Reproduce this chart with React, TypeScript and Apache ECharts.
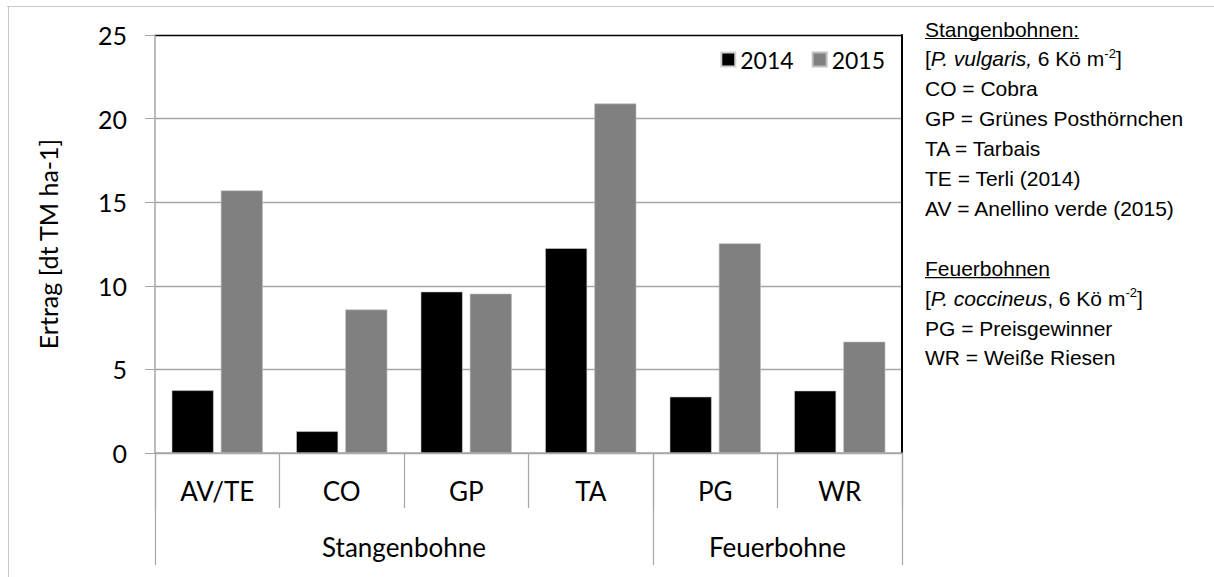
import React, { useEffect, useRef } from "react";
import * as echarts from "echarts";

const categories = ["AV/TE", "CO", "GP", "TA", "PG", "WR"];
const groups = ["Stangenbohne", "Feuerbohne"];
const groupSizes = [4, 2];
const years = ["2014", "2015"];
const values2014 = [3.75, 1.3, 9.65, 12.25, 3.37, 3.73];
const values2015 = [15.7, 8.58, 9.53, 20.9, 12.54, 6.66];
const yMin = 0;
const yMax = 25;
const yInterval = 5;
const yName = "Ertrag [dt TM ha-1]";

const noteLines = [
  { text: "Stangenbohnen:", underline: true },
  { text: "[{i|P. vulgaris,} 6 Kö m{sup|-2}]", underline: false },
  { text: "CO = Cobra", underline: false },
  { text: "GP = Grünes Posthörnchen", underline: false },
  { text: "TA = Tarbais", underline: false },
  { text: "TE = Terli (2014)", underline: false },
  { text: "AV = Anellino verde (2015)", underline: false },
  { text: "", underline: false },
  { text: "Feuerbohnen", underline: true },
  { text: "[{i|P. coccineus}, 6 Kö m{sup|-2}]", underline: false },
  { text: "PG = Preisgewinner", underline: false },
  { text: "WR = Weiße Riesen", underline: false },
];

const CHART_FONT = "Lato";
const NOTE_FONT = "Liberation Sans";

function measure(text: string, size: number, family: string) {
  const c = document.createElement("canvas").getContext("2d");
  if (!c) return text.length * size * 0.55;
  c.font = `${size}px "${family}"`;
  return c.measureText(text).width;
}

export default function App() {
  const ref = useRef<HTMLDivElement>(null);
  useEffect(() => {
    if (!ref.current) return;
    const chart = echarts.init(ref.current, undefined, { renderer: "svg" });

    const gridColor = "#a6a6a6";
    const splitColors = [...Array((yMax - yMin) / yInterval).fill(gridColor), "#000"];

    const bounds: number[] = [0];
    const centres: number[] = [];
    groupSizes.forEach((n) => {
      const start = bounds[bounds.length - 1];
      centres.push(start + n / 2);
      bounds.push(start + n);
    });

    const noteX = 925;
    const noteY0 = 29;
    const noteStep = 29.9;
    const noteSize = 21;
    const graphics: any[] = [
      { type: "line", shape: { x1: 7, y1: 6.5, x2: 1214, y2: 6.5 }, style: { stroke: "#c8c8c8", lineWidth: 1 } },
      { type: "line", shape: { x1: 8.5, y1: 6, x2: 8.5, y2: 577 }, style: { stroke: "#c8c8c8", lineWidth: 1 } },
    ];
    noteLines.forEach((ln, i) => {
      if (!ln.text) return;
      const y = noteY0 + i * noteStep;
      graphics.push({
        type: "text",
        x: noteX,
        y,
        style: {
          text: ln.text,
          fontFamily: NOTE_FONT,
          fontSize: noteSize,
          fill: "#000",
          verticalAlign: "middle",
          lineHeight: 24,
          rich: {
            i: { fontFamily: NOTE_FONT, fontSize: noteSize, fontStyle: "italic", fill: "#000", lineHeight: 24 },
            sup: { fontFamily: NOTE_FONT, fontSize: 13, fill: "#000", lineHeight: 16, verticalAlign: "top" },
          },
        },
      });
      if (ln.underline) {
        const w = measure(ln.text, noteSize, NOTE_FONT);
        graphics.push({
          type: "line",
          shape: { x1: noteX, y1: y + 9.5, x2: noteX + w, y2: y + 9.5 },
          style: { stroke: "#000", lineWidth: 1.2 },
        });
      }
    });

    chart.setOption({
      animation: false,
      backgroundColor: "#fff",
      textStyle: { fontFamily: CHART_FONT },
      grid: { left: 155, top: 35, right: 312, bottom: 124, containLabel: false, outerBoundsMode: "none" },
      legend: {
        data: years,
        icon: "rect",
        itemWidth: 14,
        itemHeight: 14,
        itemGap: 18,
        right: 324,
        top: 43,
        textStyle: { fontFamily: CHART_FONT, fontSize: 23, color: "#000" },
      },
      xAxis: [
        {
          type: "category",
          data: categories,
          position: "bottom",
          axisLine: { show: true, lineStyle: { color: gridColor, width: 1.5 } },
          axisTick: { show: true, interval: 0, length: 55, lineStyle: { color: gridColor, width: 1.2 } },
          axisLabel: { interval: 0, margin: 25, fontSize: 26, color: "#000", fontFamily: CHART_FONT },
          splitLine: { show: false },
        },
        {
          type: "value",
          min: 0,
          max: categories.length,
          position: "bottom",
          axisLine: { show: false },
          axisTick: { show: true, length: 112, customValues: bounds, lineStyle: { color: gridColor, width: 1.2 } },
          axisLabel: {
            show: true,
            margin: 81,
            customValues: centres,
            fontSize: 26,
            color: "#000",
            fontFamily: CHART_FONT,
            formatter: (v: number) => {
              const idx = centres.findIndex((c) => Math.abs(c - v) < 1e-6);
              return idx >= 0 ? groups[idx] : "";
            },
          },
          splitLine: { show: false },
        },
      ],
      yAxis: [
        {
          type: "value",
          min: yMin,
          max: yMax,
          interval: yInterval,
          name: yName,
          nameLocation: "middle",
          nameGap: 95,
          nameTextStyle: { fontSize: 25, color: "#000", fontFamily: CHART_FONT },
          axisLine: { show: true, lineStyle: { color: gridColor, width: 1.5 } },
          axisTick: { show: true, length: 10, lineStyle: { color: gridColor } },
          axisLabel: { margin: 28, fontSize: 25, color: "#000", fontFamily: CHART_FONT },
          splitLine: { show: true, lineStyle: { color: splitColors, width: 1.3 } },
        },
        {
          type: "value",
          min: yMin,
          max: yMax,
          position: "right",
          axisLine: { show: true, lineStyle: { color: "#000", width: 2 } },
          axisTick: { show: false },
          axisLabel: { show: false },
          splitLine: { show: false },
        },
      ],
      series: [
        {
          name: years[0],
          type: "bar",
          data: values2014,
          barWidth: 42,
          barGap: "17%",
          itemStyle: { color: "#000000", borderColor: "#d0d0d0", borderWidth: 0.6 },
        },
        {
          name: years[1],
          type: "bar",
          data: values2015,
          barWidth: 42,
          barGap: "17%",
          itemStyle: { color: "#808080", borderColor: "#c0c0c0", borderWidth: 0.6 },
        },
      ],
      graphic: graphics,
    });

    return () => chart.dispose();
  }, []);

  return (
    <div
      ref={ref}
      style={{ position: "fixed", left: 0, top: 0, width: 1214, height: 577, background: "#fff" }}
    />
  );
}
